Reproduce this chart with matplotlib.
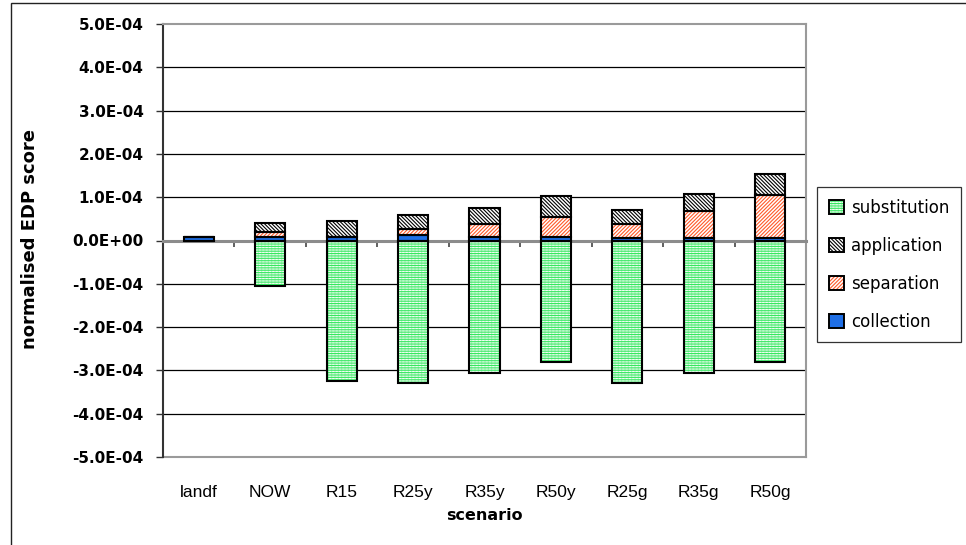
import numpy as np
import matplotlib
matplotlib.use("Agg")
import matplotlib.pyplot as plt
from matplotlib.patches import Patch, Rectangle
from matplotlib.ticker import FuncFormatter, FixedLocator
from matplotlib.legend_handler import HandlerTuple

# EDP contributions per scenario (units of 1E-04)
scenarios = ["landf", "NOW", "R15", "R25y", "R35y", "R50y", "R25g", "R35g", "R50g"]
collection = [0.07, 0.07, 0.07, 0.13, 0.09, 0.09, 0.06, 0.05, 0.05]
separation = [0.00, 0.12, 0.01, 0.13, 0.28, 0.46, 0.31, 0.63, 1.00]
application = [0.00, 0.21, 0.37, 0.33, 0.38, 0.47, 0.33, 0.39, 0.48]
substitution = [0.00, -1.04, -3.24, -3.29, -3.06, -2.81, -3.29, -3.06, -2.81]

scale = 1e-4
coll = np.array(collection) * scale
sep = np.array(separation) * scale
app = np.array(application) * scale
subst = np.array(substitution) * scale

plt.rcParams["hatch.linewidth"] = 0.8

fig = plt.figure(figsize=(9.66, 5.45), dpi=100)
ax = fig.add_axes([163 / 966, 1 - 457 / 545, 643 / 966, 433 / 545])

x = np.arange(len(scenarios))
w = 0.42


def hatched_bar(bottom, height, face, layers):
    # fill + hatch layers, then a black outline on top
    ax.bar(x, height, w, bottom=bottom, color=face, linewidth=0, zorder=3)
    for h, c in layers:
        ax.bar(x, height, w, bottom=bottom, facecolor="none", edgecolor=c,
               hatch=h, linewidth=0, zorder=3)
    ax.bar(x, height, w, bottom=bottom, facecolor="none", edgecolor="black",
           linewidth=1.5, zorder=4)


sub_style = ("#effff2", [("|||||", "#b8f2c6"), ("-------", "#35e85f")])
app_style = ("white", [("\\" * 9, "black")])
sep_style = ("white", [("/" * 9, "#ff5a2a")])
col_style = ("#1f6fe6", [])

hatched_bar(0, subst, *sub_style)
hatched_bar(0, coll, *col_style)
hatched_bar(coll, sep, *sep_style)
hatched_bar(coll + sep, app, *app_style)

ax.set_xlim(-0.5, len(scenarios) - 0.5)
ax.set_ylim(-5 * scale, 5 * scale)
yt = np.arange(-5, 6) * scale
ax.set_yticks(yt)
ax.yaxis.set_major_formatter(FuncFormatter(
    lambda v, p: "0.0E+00" if abs(v) < 1e-12 else f"{v:.1E}"))
for lab in ax.get_yticklabels():
    lab.set_fontweight("bold")
    lab.set_fontsize(11)
    lab.set_family("DejaVu Sans")
ax.tick_params(axis="y", direction="out", length=5, width=1, color="#333333", pad=9)

# gridlines between the frame lines
for v in yt[1:-1]:
    if abs(v) > 1e-12:
        ax.axhline(v, color="black", lw=0.9, zorder=0.5)

# category axis crossing at zero, ticks between categories
ax.spines["bottom"].set_position(("data", 0))
ax.spines["bottom"].set_color("#8c8c8c")
ax.spines["bottom"].set_linewidth(2.2)
ax.spines["left"].set_color("#333333")
ax.spines["left"].set_linewidth(1.5)
for s in ["top", "right"]:
    ax.spines[s].set_color("#9a9a9a")
    ax.spines[s].set_linewidth(1.5)
ax.xaxis.set_major_locator(FixedLocator(x[:-1] + 0.5))
ax.tick_params(axis="x", direction="out", length=4.5, width=1.2, color="#444444",
               labelbottom=False)

# bottom frame line and category labels
ax.axhline(-5 * scale, color="#9a9a9a", lw=1.5, zorder=2.5, clip_on=False)
sec = ax.secondary_xaxis("bottom")
sec.set_xticks(x, labels=scenarios)
sec.tick_params(length=0, pad=20, labelsize=12.5)
for lab in sec.get_xticklabels():
    lab.set_family("Liberation Sans")
sec.spines["bottom"].set_visible(False)
sec.set_xlabel("scenario", fontsize=11.5, fontweight="bold", family="DejaVu Sans",
               labelpad=6)

fig.text(30 / 966, 1 - 239 / 545, "normalised EDP score", rotation=90,
         ha="center", va="center", fontsize=13, fontweight="bold",
         family="DejaVu Sans")

# legend: top entry is substitution, stacked order reversed
handles = []
for face, layers in [sub_style, app_style, sep_style, col_style]:
    parts = [Patch(facecolor=face, linewidth=0)]
    for h, c in layers:
        parts.append(Patch(facecolor="none", edgecolor=c, hatch=h, linewidth=0))
    parts.append(Patch(facecolor="none", edgecolor="black", linewidth=1.4))
    handles.append(tuple(parts))
leg = fig.legend(handles, ["substitution", "application", "separation", "collection"],
                 handler_map={tuple: HandlerTuple(ndivide=1, pad=0)},
                 loc="upper left", bbox_to_anchor=(817 / 966, 1 - 187 / 545),
                 frameon=True, fancybox=False, edgecolor="black",
                 prop={"family": "DejaVu Sans", "size": 12},
                 handlelength=0.9, handleheight=0.9, handletextpad=0.45,
                 labelspacing=1.2, borderpad=0.7, borderaxespad=0)
leg.get_frame().set_linewidth(0.9)

# outer chart border
fig.patches.append(Rectangle((11 / 966, -0.05), 1.2, 1 - 3 / 545 + 0.05,
                             transform=fig.transFigure, fill=False,
                             edgecolor="#222222", lw=1.0, clip_on=False))

fig.savefig("out.png", dpi=100)
